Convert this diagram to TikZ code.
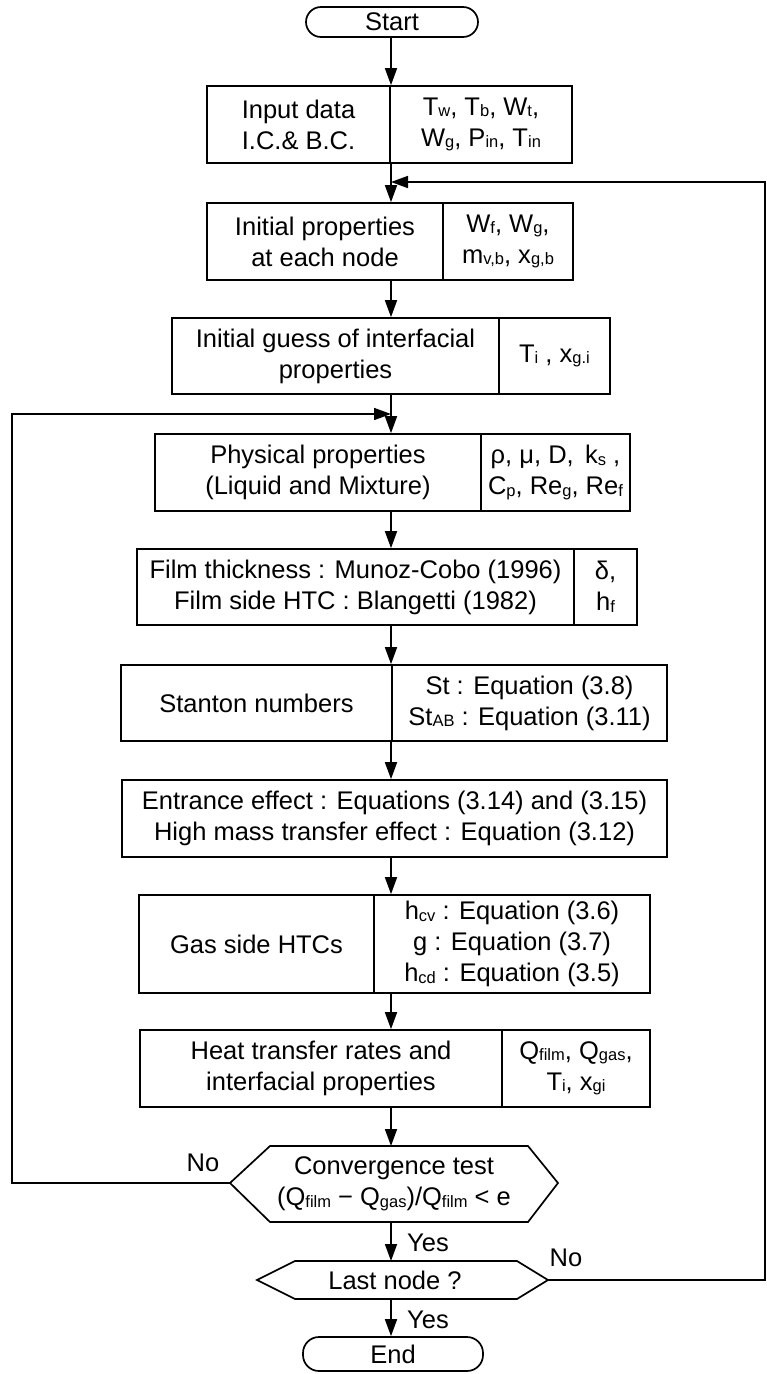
\documentclass[tikz,border=0pt]{standalone}
\usepackage{fontspec}
\setmainfont{Liberation Sans}
\usetikzlibrary{arrows.meta}
\newcommand{\sbs}[1]{\raisebox{-1.5pt}{\fontsize{16.5}{16.5}\selectfont #1}}
\begin{document}
\begin{tikzpicture}[x=1pt,y=-1pt, line width=1.7pt,
  box/.style={draw, rectangle, inner sep=0pt, align=center, font=\fontsize{25.5}{31}\selectfont},
  txt/.style={align=center, inner sep=0pt, font=\fontsize{25.5}{31}\selectfont},
  arr/.style={-{Triangle[length=17pt,width=12pt]}}]
\useasboundingbox (0,0) rectangle (767,1374);

% main line reference
\coordinate (m) at (391,0);

% boxes
\node[box, minimum width=172pt, minimum height=30pt, rounded corners=15pt] (start) at (392,22) {Start};
\node[box, minimum width=365pt, minimum height=77pt] (input) at (389.5,124.5) {};
\node[box, minimum width=366pt, minimum height=77pt] (initprop) at (390,241.5) {};
\node[box, minimum width=438pt, minimum height=76pt] (guess) at (391,356) {};
\node[box, minimum width=475pt, minimum height=77pt] (phys) at (392.5,472.5) {};
\node[box, minimum width=500pt, minimum height=76pt] (film) at (387,587) {};
\node[box, minimum width=546pt, minimum height=76pt] (stan) at (394,703) {};
\node[box, minimum width=545pt, minimum height=77pt] (ent) at (394.5,818.5) {Entrance effect : Equations (3.14) and (3.15)\\High mass transfer effect : Equation (3.12)};
\node[box, minimum width=511pt, minimum height=98pt] (gas) at (394.5,944) {};
\node[box, minimum width=510pt, minimum height=77pt] (heat) at (395,1068.5) {};
\node[box, minimum width=180pt, minimum height=34pt, rounded corners=16pt] (end) at (393,1354) {End};

% dividers
\draw (390,0 |- input.north) -- (390,0 |- input.south);
\draw (443,0 |- initprop.north) -- (443,0 |- initprop.south);
\draw (499,0 |- guess.north) -- (499,0 |- guess.south);
\draw (481,0 |- phys.north) -- (481,0 |- phys.south);
\draw (574,0 |- film.north) -- (574,0 |- film.south);
\draw (392,0 |- stan.north) -- (392,0 |- stan.south);
\draw (374,0 |- gas.north) -- (374,0 |- gas.south);
\draw (502,0 |- heat.north) -- (502,0 |- heat.south);

% texts
\node[txt] (inputL) at (298.5,124.5) {Input data\\I.C.\& B.C.};
\node[txt] (inputR) at (481,124.5) {T\sbs{w}, T\sbs{b}, W\sbs{t},\\W\sbs{g}, P\sbs{in}, T\sbs{in}};
\node[txt] (initpropL) at (325,241.5) {Initial properties\\at each node};
\node[txt] (initpropR) at (508,241.5) {W\sbs{f}, W\sbs{g},\\m\sbs{v,b}, x\sbs{g,b}};
\node[txt] (guessL) at (335.5,356) {Initial guess of interfacial\\properties};
\node[txt] (guessR) at (554.5,356) {T\sbs{i} , x\sbs{g.i}};
\node[txt] (physL) at (318,472.5) {Physical properties\\(Liquid and Mixture)};
\node[txt] (physR) at (555.5,472.5) {ρ, μ, D,\, k\sbs{s} ,\\C\sbs{p}, Re\sbs{g}, Re\sbs{f}};
\node[txt] (filmL) at (355.5,587) {Film thickness : Munoz-Cobo (1996)\\Film side HTC : Blangetti (1982)};
\node[txt] (filmR) at (605.5,587) {δ,\\h\sbs{f}};
\node[txt] (stanL) at (256.5,703) {Stanton numbers};
\node[txt] (stanR) at (529.5,703) {St : Equation (3.8)\\St\sbs{AB} : Equation (3.11)};
\node[txt] (gasL) at (256.5,944) {Gas side HTCs};
\node[txt] (gasR) at (512,944) {h\sbs{cv} : Equation (3.6)\\g : Equation (3.7)\\h\sbs{cd} : Equation (3.5)};
\node[txt] (heatL) at (321,1068.5) {Heat transfer rates and\\interfacial properties};
\node[txt] (heatR) at (576,1068.5) {Q\sbs{film}, Q\sbs{gas},\\T\sbs{i}, x\sbs{gi}};

% hexagons
\coordinate (convW) at (230,1183);
\coordinate (convE) at (558,1183);
\coordinate (convN) at (391,1146);
\coordinate (convS) at (391,1222);
\draw (convW) -- (270,1146) -- (528,1146) -- (convE) -- (528,1222) -- (270,1222) -- cycle;
\node[txt] (convt) at (394,1184) {Convergence test\\(Q\sbs{film} − Q\sbs{gas})/Q\sbs{film} < e};

\coordinate (lastW) at (257,1280);
\coordinate (lastE) at (548,1280);
\coordinate (lastN) at (391,1261);
\coordinate (lastS) at (391,1299);
\draw (lastW) -- (295,1261) -- (517,1261) -- (lastE) -- (517,1299) -- (295,1299) -- cycle;
\node[txt] (lastt) at (395,1280) {Last node ?};

% loop coordinates
\coordinate (j1) at (391,182);
\coordinate (rtop) at (765,182);
\coordinate (j2) at (391,414);
\coordinate (ltop) at (12,414);

% connectors
\draw[arr] (start.south -| m) -- (input.north -| m);
\draw[arr] (input.south -| m) -- (initprop.north -| m);
\draw[arr] (initprop.south -| m) -- (guess.north -| m);
\draw[arr] (guess.south -| m) -- (phys.north -| m);
\draw[arr] (phys.south -| m) -- (film.north -| m);
\draw[arr] (film.south -| m) -- (stan.north -| m);
\draw[arr] (stan.south -| m) -- (ent.north -| m);
\draw[arr] (ent.south -| m) -- (gas.north -| m);
\draw[arr] (gas.south -| m) -- (heat.north -| m);
\draw[arr] (heat.south -| m) -- (convN);
\draw[arr] (convS) -- (lastN);
\draw[arr] (lastS) -- (end.north -| m);
\draw[arr] (convW) -| (ltop) -- (j2);
\draw[arr] (lastE) -| (rtop) -- (j1);

% labels
\node[txt] (no1) at (203,1163) {No};
\node[txt] (no2) at (566,1258) {No};
\node[txt] (yes1) at (428,1243) {Yes};
\node[txt] (yes2) at (428,1320) {Yes};
\end{tikzpicture}
\end{document}
